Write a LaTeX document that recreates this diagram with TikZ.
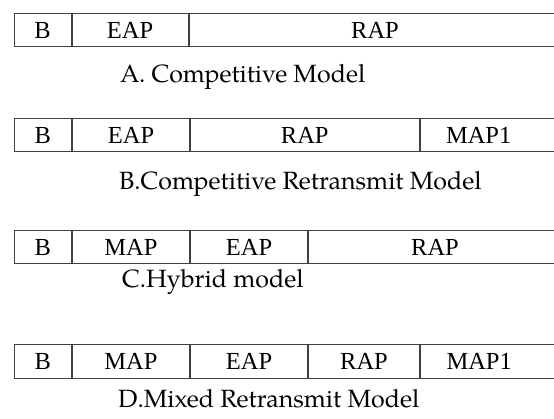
\documentclass[tikz,border=0pt]{standalone}
\usepackage{fontspec}
\setmainfont{Liberation Serif}
\newfontfamily\capfont{texgyrepagella-regular.otf}
\usetikzlibrary{positioning}
\tikzset{
  cell/.style={draw=black!75,line width=1pt,minimum height=33pt,inner sep=0pt,anchor=west,font=\fontsize{24.5}{26}\selectfont},
  lastcell/.style={cell,minimum width=142pt,text width=142pt,align=left},
  caption/.style={anchor=base west,inner sep=0pt,font=\capfont\fontsize{25}{28}\selectfont}
}
\begin{document}
\begin{tikzpicture}[x=1pt,y=-1pt]
  \useasboundingbox (0,0) rectangle (554,419);
  \clip (0,0) rectangle (554,419);
  % A
  \node[cell,minimum width=57pt] (aB) at (13.5,30.5) {B};
  \node[cell,minimum width=116pt] (aEAP) at (aB.east) {EAP};
  \node[cell,minimum width=372pt] (aRAP) at (aEAP.east) {RAP};
  \node[caption] (capA) at (120,83) {A. Competitive Model};
  % B
  \node[cell,minimum width=57.5pt] (bB) at (13.5,135.5) {B};
  \node[cell,minimum width=117pt] (bEAP) at (bB.east) {EAP};
  \node[cell,minimum width=228.5pt] (bRAP) at (bEAP.east) {RAP};
  \node[lastcell] (bMAP1) at (bRAP.east) {\hspace*{26pt}MAP1};
  \node[caption] (capB) at (119,190) {B.Competitive Retransmit Model};
  % C
  \node[cell,minimum width=57.5pt] (cB) at (13.5,247.5) {B};
  \node[cell,minimum width=117pt] (cMAP) at (cB.east) {MAP};
  \node[cell,minimum width=117pt] (cEAP) at (cMAP.east) {EAP};
  \node[cell,minimum width=253pt] (cRAP) at (cEAP.east) {RAP};
  \node[caption] (capC) at (122,288) {C.Hybrid model};
  % D
  \node[cell,minimum width=57.5pt] (dB) at (13.5,361.5) {B};
  \node[cell,minimum width=117pt] (dMAP) at (dB.east) {MAP};
  \node[cell,minimum width=117pt] (dEAP) at (dMAP.east) {EAP};
  \node[cell,minimum width=111pt] (dRAP) at (dEAP.east) {RAP};
  \node[lastcell] (dMAP1) at (dRAP.east) {\hspace*{26pt}MAP1};
  \node[caption] (capD) at (118,407) {D.Mixed Retransmit Model};
\end{tikzpicture}
\end{document}
